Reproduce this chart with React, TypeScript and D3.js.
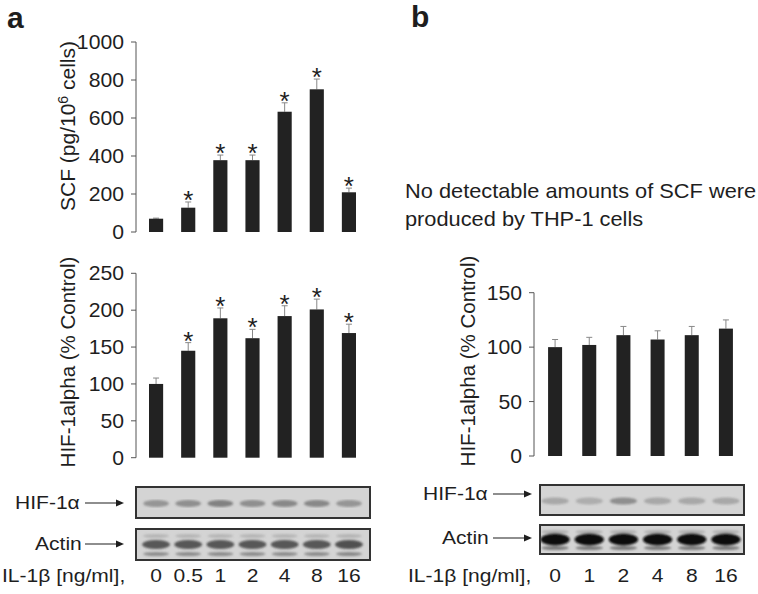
import React from 'react'
import * as d3 from 'd3'

// panel a doses + values
const dosesA = ['0', '0.5', '1', '2', '4', '8', '16']
const scfMean = [70, 128, 378, 378, 633, 751, 209]
const scfErr = [3, 30, 27, 27, 47, 54, 22]
const scfSig = [false, true, true, true, true, true, true]

const hifAMean = [100, 145, 189, 162, 192, 201, 169]
const hifAErr = [8, 11, 14, 12, 14, 14, 12]
const hifASig = [false, true, true, true, true, true, true]

// panel b
const dosesB = ['0', '1', '2', '4', '8', '16']
const hifBMean = [100, 102, 111, 107, 111, 117]
const hifBErr = [7, 7, 8, 8, 8, 8]

const scfTicks = [0, 200, 400, 600, 800, 1000]
const hifATicks = [0, 50, 100, 150, 200, 250]
const hifBTicks = [0, 50, 100, 150]

// blot band darkness per lane (0..1)
const hifBandA = [0.5, 0.55, 0.65, 0.55, 0.6, 0.6, 0.5]
const actinBandA = [0.8, 0.8, 0.8, 0.8, 0.8, 0.8, 0.85]
const hifBandB = [0.35, 0.3, 0.55, 0.35, 0.35, 0.35]
const actinBandB = [1, 1, 1, 1, 1, 1]

const FONT = 'Arial, "Liberation Sans", Helvetica, sans-serif'
const INK = '#1e1e1e'
const SX = 1.17 // the figure is a bit wider than tall

const xA = d3.scaleBand().domain(dosesA).range([140, 365]).paddingInner(0.56).paddingOuter(0.28)
const xB = d3.scaleBand().domain(dosesB).range([538, 743]).paddingInner(0.59).paddingOuter(0.295)
const yScf = d3.scaleLinear().domain([0, 1000]).range([232, 42])
const yHifA = d3.scaleLinear().domain([0, 250]).range([457.7, 273.3])
const yHifB = d3.scaleLinear().domain([0, 150]).range([456, 292.7])

// horizontally stretched text
function T({ x, y, size = 18, anchor = 'start', sx = SX, children }) {
  return (
    <text transform={`translate(${x},${y}) scale(${sx},1)`} dy="0.35em" textAnchor={anchor} fontSize={size} fill={INK}>
      {children}
    </text>
  )
}

function YAxis({ x, scale, ticks }) {
  const [r0, r1] = scale.range()
  return (
    <g>
      <line x1={x} x2={x} y1={r0} y2={r1} stroke="#555" strokeWidth={1} />
      {ticks.map(t => (
        <g key={t}>
          <line x1={x - 5} x2={x} y1={scale(t)} y2={scale(t)} stroke="#555" />
          <T x={x - 12} y={scale(t)} size={20} anchor="end" sx={1.06}>{t}</T>
        </g>
      ))}
    </g>
  )
}

function Bars({ x, y, cats, mean, err, sig }) {
  return (
    <g>
      {cats.map((c, i) => {
        const cx = x(c) + x.bandwidth() / 2
        const top = y(mean[i] + err[i])
        return (
          <g key={c}>
            <line x1={cx} x2={cx} y1={y(mean[i])} y2={top} stroke="#888" />
            <line x1={cx - 3} x2={cx + 3} y1={top} y2={top} stroke="#888" />
            <rect x={x(c)} y={y(mean[i])} width={x.bandwidth()} height={y(0) - y(mean[i])} fill="#222" />
            {sig && sig[i] && (
              <text x={cx} y={top + 7} textAnchor="middle" fontSize={26} fill={INK}>*</text>
            )}
          </g>
        )
      })}
    </g>
  )
}

function Blot({ x, cats, x0, x1, y0, y1, bands, kind, id }) {
  const mid = (y0 + y1) / 2
  return (
    <g>
      <rect x={x0} y={y0} width={x1 - x0} height={y1 - y0} fill="#d4d4d4" stroke="#333" strokeWidth={2} />
      <g filter={`url(#${id})`} clipPath={`url(#clip-${id})`}>
        {cats.map((c, i) => {
          const cx = x(c) + x.bandwidth() / 2
          const w = x.step() * 0.8
          const v = bands[i]
          if (kind === 'hif') {
            return <ellipse key={c} cx={cx} cy={mid + 1} rx={w / 2} ry={3.5} fill="#555" opacity={v} />
          }
          return (
            <g key={c}>
              <ellipse cx={cx} cy={y0 + 7} rx={w / 2} ry={2} fill="#777" opacity={v * 0.4} />
              <ellipse cx={cx} cy={mid} rx={w / 2 + 1} ry={kind === 'actinB' ? 6 : 4.5} fill={kind === 'actinB' ? '#111' : '#3a3a3a'} opacity={v} />
              <ellipse cx={cx} cy={y1 - 6} rx={w / 2} ry={2} fill="#555" opacity={v * 0.7} />
            </g>
          )
        })}
      </g>
      <defs>
        <filter id={id}><feGaussianBlur stdDeviation={1.3} /></filter>
        <clipPath id={`clip-${id}`}><rect x={x0 + 1} y={y0 + 1} width={x1 - x0 - 2} height={y1 - y0 - 2} /></clipPath>
      </defs>
    </g>
  )
}

function Arrow({ x1, x2, y }) {
  return (
    <g>
      <line x1={x1} x2={x2 - 6} y1={y} y2={y} stroke={INK} strokeWidth={1.2} />
      <path d={`M${x2},${y} L${x2 - 8},${y - 3.5} L${x2 - 8},${y + 3.5} Z`} fill={INK} />
    </g>
  )
}

export default function App() {
  return (
    <svg width={758} height={594} style={{ position: 'absolute', left: 0, top: 0, background: '#fff' }} fontFamily={FONT}>
      <rect width={758} height={594} fill="#fff" />
      {/* panel labels */}
      <text x={7} y={28} fontSize={30} fontWeight="bold" fill={INK}>a</text>
      <text x={411} y={27} fontSize={30} fontWeight="bold" fill={INK}>b</text>

      {/* a: SCF */}
      <YAxis x={136} scale={yScf} ticks={scfTicks} />
      <Bars x={xA} y={yScf} cats={dosesA} mean={scfMean} err={scfErr} sig={scfSig} />
      <text transform="translate(75,126) rotate(-90)" textAnchor="middle" fontSize={21} fill={INK}>
        SCF (pg/10<tspan dy={-7} fontSize={14}>6</tspan><tspan dy={7}> cells)</tspan>
      </text>

      {/* a: HIF */}
      <YAxis x={136} scale={yHifA} ticks={hifATicks} />
      <Bars x={xA} y={yHifA} cats={dosesA} mean={hifAMean} err={hifAErr} sig={hifASig} />
      <text transform="translate(75,362) rotate(-90)" textAnchor="middle" fontSize={20.5} fill={INK}>HIF-1alpha (% Control)</text>

      {/* a: blots */}
      <Blot id="ha" x={xA} cats={dosesA} x0={136} x1={370} y0={487} y1={518} bands={hifBandA} kind="hif" />
      <Blot id="aa" x={xA} cats={dosesA} x0={136} x1={370} y0={529} y1={560} bands={actinBandA} kind="actinA" />
      <T x={15} y={503}>HIF-1α</T>
      <Arrow x1={85} x2={124} y={503} />
      <T x={35} y={544}>Actin</T>
      <Arrow x1={85} x2={124} y={544} />

      <T x={2} y={576}>IL-1β [ng/ml],</T>
      {dosesA.map(d => (
        <T key={d} x={xA(d) + xA.bandwidth() / 2} y={576} anchor="middle">{d}</T>
      ))}

      {/* b */}
      <T x={405} y={191} size={20} sx={1.09}>No detectable amounts of SCF were</T>
      <T x={405} y={219} size={20} sx={1.09}>produced by THP-1 cells</T>

      <YAxis x={534} scale={yHifB} ticks={hifBTicks} />
      <Bars x={xB} y={yHifB} cats={dosesB} mean={hifBMean} err={hifBErr} sig={null} />
      <text transform="translate(475,361) rotate(-90)" textAnchor="middle" fontSize={20.5} fill={INK}>HIF-1alpha (% Control)</text>

      <Blot id="hb" x={xB} cats={dosesB} x0={540} x1={744} y0={485} y1={515} bands={hifBandB} kind="hif" />
      <Blot id="ab" x={xB} cats={dosesB} x0={540} x1={744} y0={525} y1={554} bands={actinBandB} kind="actinB" />
      <T x={423} y={494}>HIF-1α</T>
      <Arrow x1={493} x2={532} y={494} />
      <T x={442} y={538}>Actin</T>
      <Arrow x1={493} x2={532} y={538} />

      <T x={408} y={576}>IL-1β [ng/ml],</T>
      {dosesB.map(d => (
        <T key={d} x={xB(d) + xB.bandwidth() / 2} y={576} anchor="middle">{d}</T>
      ))}
    </svg>
  )
}
